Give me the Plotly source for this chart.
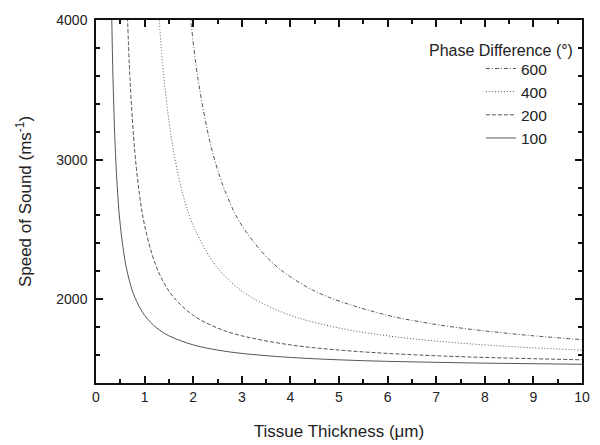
import plotly.graph_objects as go

# Values (thickness in µm, speed in m/s)
d100 = [0.32, 0.35, 0.40, 0.45, 0.50, 0.60, 0.70, 0.80, 1.0, 1.25, 1.5, 2.0, 2.5, 3.0, 4.0, 5.0, 6.0, 7.0, 8.0, 9.0, 10.0]
c100 = [4107, 3575, 3050, 2737, 2529, 2271, 2116, 2013, 1885, 1794, 1738, 1673, 1636, 1612, 1583, 1566, 1555, 1548, 1542, 1538, 1534]

d200 = [0.64, 0.70, 0.80, 0.90, 1.0, 1.2, 1.4, 1.6, 2.0, 2.5, 3.0, 4.0, 5.0, 6.0, 7.0, 8.0, 9.0, 10.0]
c200 = [4107, 3575, 3050, 2737, 2529, 2271, 2116, 2013, 1885, 1794, 1738, 1673, 1636, 1612, 1595, 1583, 1574, 1566]

d400 = [1.28, 1.4, 1.6, 1.8, 2.0, 2.4, 2.8, 3.2, 4.0, 5.0, 6.0, 7.0, 8.0, 9.0, 10.0]
c400 = [4107, 3575, 3050, 2737, 2529, 2271, 2116, 2013, 1885, 1794, 1738, 1700, 1673, 1652, 1636]

d600 = [1.92, 2.1, 2.4, 2.7, 3.0, 3.6, 4.2, 4.8, 6.0, 7.0, 7.5, 8.0, 9.0, 10.0]
c600 = [4107, 3575, 3050, 2737, 2529, 2271, 2116, 2013, 1885, 1819, 1794, 1773, 1738, 1711]

series_names = ["600", "400", "200", "100"]
series_x = [d600, d400, d200, d100]
series_y = [c600, c400, c200, c100]
dashes = ["4px,2px,1px,2px", "1px,2px", "4px,2px", "solid"]

line_color = "#555555"
font_family = "Liberation Sans, Arial, sans-serif"

fig = go.Figure()
for name, xs, ys, dash in zip(series_names, series_x, series_y, dashes):
    fig.add_trace(go.Scatter(
        x=xs, y=ys, mode="lines", name=name,
        line=dict(color=line_color, width=1, dash=dash, shape="spline", smoothing=1.0),
    ))

axis_common = dict(
    showgrid=False, zeroline=False, showline=True, linecolor="#111", linewidth=1.5,
    mirror="allticks", ticks="inside", ticklen=7, tickwidth=1.5, tickcolor="#111",
    tickfont=dict(size=14, color="#222", family=font_family),
    automargin=False,
)

# page body has an 8px margin, so the figure is sized to fit the remaining window
fig.update_layout(
    width=592, height=437,
    margin=dict(l=88, r=18, t=12, b=62),
    paper_bgcolor="white", plot_bgcolor="white",
    font=dict(family=font_family, color="#222"),
    showlegend=True,
    legend=dict(
        x=0.792, y=0.912, xanchor="left", yanchor="top",
        bgcolor="rgba(0,0,0,0)", font=dict(size=15.5, color="#222"),
        tracegroupgap=0, itemwidth=30,
    ),
    xaxis=dict(
        range=[0, 10], dtick=1, tick0=0,
        minor=dict(dtick=0.5, ticks="inside", ticklen=4, tickwidth=1.5, tickcolor="#111"),
        title=dict(text="Tissue Thickness (\u03bcm)", font=dict(size=17, color="#222"), standoff=22),
        **axis_common,
    ),
    yaxis=dict(
        range=[1400, 4000], dtick=1000, tick0=0, ticklabelstandoff=4,
        minor=dict(dtick=200, ticks="inside", ticklen=4, tickwidth=1.5, tickcolor="#111"),
        title=dict(text="Speed of Sound (ms<sup>-1</sup>)", font=dict(size=17, color="#222"), standoff=20),
        **axis_common,
    ),
    annotations=[dict(
        text="Phase Difference (\u00b0)", xref="paper", yref="paper",
        x=0.985, y=0.917, xanchor="right", yanchor="middle", showarrow=False,
        font=dict(size=16, color="#222", family=font_family),
    )],
)

fig.write_html("out.html")
